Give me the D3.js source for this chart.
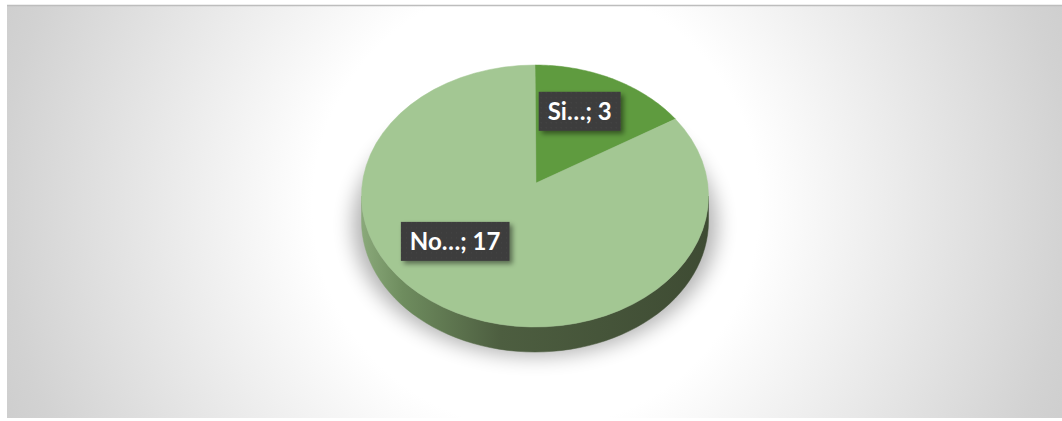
<!DOCTYPE html>
<html><head><meta charset="utf-8">
<script src="https://cdn.jsdelivr.net/npm/d3@7"></script>
<style>html,body{margin:0;padding:0;background:#fff;}svg{display:block;}</style>
</head><body>
<script>
// ---- data ----
const categories = ["Si…", "No…"];
const values = [3, 17];
const sliceColors = ["#5f9b3f", "#a3c793"];

// ---- layout ----
const W = 1062, H = 421;
const cx = 535, cy = 196, rx = 173.5, ry = 131;  // top ellipse
const vx = 536, vy = 183;                         // projected pie centre
const depth = 25;
const labelFrac = [0.58, 0.62];
const labelShift = [[-2, -4], [-32, -14]];

const svg = d3.select("body").append("svg").attr("width", W).attr("height", H);
const defs = svg.append("defs");

const bg = defs.append("radialGradient").attr("id", "bg")
  .attr("gradientUnits", "userSpaceOnUse").attr("cx", 536).attr("cy", 205).attr("r", 620);
bg.append("stop").attr("offset", 0).attr("stop-color", "#ffffff");
bg.append("stop").attr("offset", 0.36).attr("stop-color", "#ffffff");
bg.append("stop").attr("offset", 0.86).attr("stop-color", "#d2d2d2");
bg.append("stop").attr("offset", 1).attr("stop-color", "#c9c9c9");

const side = defs.append("linearGradient").attr("id", "side")
  .attr("gradientUnits", "userSpaceOnUse").attr("x1", cx - rx).attr("x2", cx + rx).attr("y1", 0).attr("y2", 0);
side.append("stop").attr("offset", 0).attr("stop-color", "#8aa97a");
side.append("stop").attr("offset", 0.12).attr("stop-color", "#6e8c5e");
side.append("stop").attr("offset", 0.4).attr("stop-color", "#4d5e40");
side.append("stop").attr("offset", 1).attr("stop-color", "#3e4b33");

const blur = defs.append("filter").attr("id", "blur").attr("x", "-30%").attr("y", "-30%").attr("width", "160%").attr("height", "160%");
blur.append("feGaussianBlur").attr("stdDeviation", 10);

const lblShadow = defs.append("filter").attr("id", "lsh").attr("x", "-20%").attr("y", "-30%").attr("width", "150%").attr("height", "180%");
lblShadow.append("feDropShadow").attr("dx", 3).attr("dy", 3).attr("stdDeviation", 2.5)
  .attr("flood-color", "#000").attr("flood-opacity", 0.45);

const dots = defs.append("pattern").attr("id", "dots").attr("patternUnits", "userSpaceOnUse")
  .attr("width", 5).attr("height", 5);
dots.append("rect").attr("width", 5).attr("height", 5).attr("fill", "#3c3c3c");
dots.append("rect").attr("x", 1).attr("y", 1).attr("width", 1).attr("height", 1).attr("fill", "#4a4a4a");

// background panel
svg.append("rect").attr("x", 0).attr("y", 0).attr("width", W).attr("height", H).attr("fill", "#ffffff");
svg.append("rect").attr("x", 7).attr("y", 5).attr("width", W - 7).attr("height", 413).attr("fill", "url(#bg)");
svg.append("line").attr("x1", 7).attr("x2", W).attr("y1", 5.5).attr("y2", 5.5).attr("stroke", "#bdbdbd").attr("stroke-width", 1.5);

// scales mapping pie angle to ellipse coordinates
const xs = d3.scaleLinear().domain([-1, 1]).range([cx - rx, cx + rx]);
const ys = d3.scaleLinear().domain([-1, 1]).range([cy + ry, cy - ry]);
const pt = (a, dy = 0) => [xs(Math.sin(a)), ys(Math.cos(a)) + dy];
const line = d3.line();
const sampleArc = (a0, a1, dy = 0) => d3.range(0, 61).map(i => pt(a0 + (a1 - a0) * i / 60, dy));

const pie = d3.pie().sort(null).startAngle(0).endAngle(2 * Math.PI);
const arcs = pie(values);

// shadow beneath pie
const shadowPts = sampleArc(0, 2 * Math.PI, depth).map(([x, y]) => [cx + (x - cx) * 1.05, y + 4]);
svg.append("path").attr("d", line(shadowPts) + "Z").attr("fill", "#000").attr("opacity", 0.3)
  .attr("filter", "url(#blur)");

// side wall (front half, pi/2 .. 3pi/2)
arcs.forEach((d, i) => {
  const a0 = Math.max(d.startAngle, Math.PI / 2), a1 = Math.min(d.endAngle, 3 * Math.PI / 2);
  if (a1 <= a0) return;
  const top = sampleArc(a0, a1);
  const bot = sampleArc(a1, a0, depth);
  svg.append("path").attr("d", line(top.concat(bot)) + "Z")
    .attr("fill", "url(#side)").attr("stroke", "url(#side)").attr("stroke-width", 0.5);
});

// top faces
arcs.forEach((d, i) => {
  const pts = [[vx, vy]].concat(sampleArc(d.startAngle, d.endAngle));
  svg.append("path").attr("d", line(pts) + "Z").attr("fill", sliceColors[i])
    .attr("stroke", sliceColors[i]).attr("stroke-width", 0.5);
});

// labels
arcs.forEach((d, i) => {
  const m = (d.startAngle + d.endAngle) / 2;
  const f = labelFrac[i];
  const x = vx + (xs(Math.sin(m)) - cx) * f + labelShift[i][0];
  const y = vy + (ys(Math.cos(m)) - cy) * f + labelShift[i][1];
  const g = svg.append("g").attr("transform", `translate(${x},${y})`);
  const t = g.append("text").attr("text-anchor", "middle").attr("dy", "0.36em")
    .attr("font-family", "Lato, 'Open Sans', sans-serif").attr("font-weight", 700)
    .attr("font-size", 24).attr("fill", "#ffffff")
    .text(categories[i] + "; " + values[i]);
  const bb = t.node().getBBox();
  g.insert("rect", "text").attr("x", bb.x - 9).attr("y", -19.5).attr("width", bb.width + 18).attr("height", 39)
    .attr("fill", "url(#dots)").attr("filter", "url(#lsh)");
});
</script>
</body></html>
